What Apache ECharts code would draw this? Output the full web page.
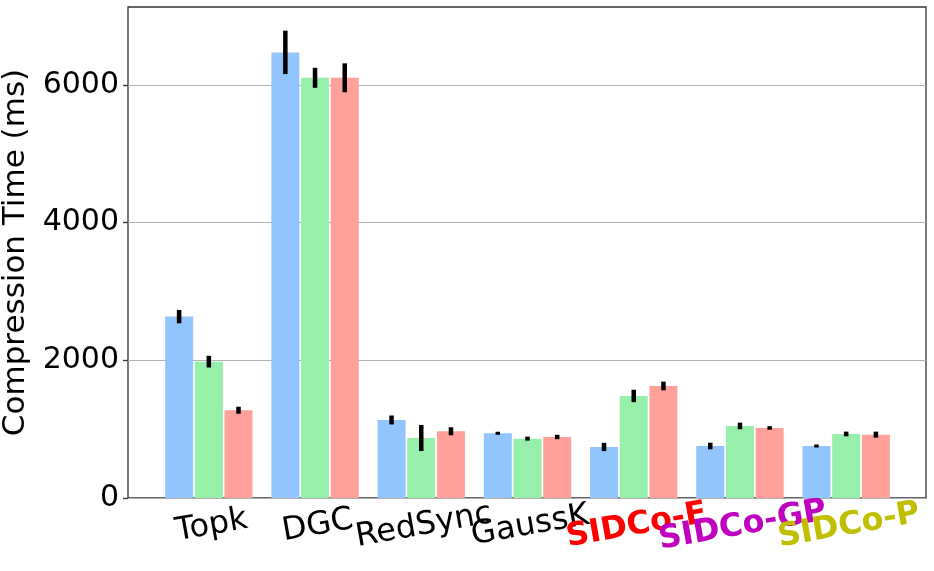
<!DOCTYPE html>
<html>
<head>
<meta charset="utf-8">
<script src="https://cdn.jsdelivr.net/npm/echarts@6/dist/echarts.min.js"></script>
<style>
  html, body { margin: 0; padding: 0; background: #fff; }
  #chart { width: 934px; height: 571px; }
</style>
</head>
<body>
<div id="chart"></div>
<script>
// categories and values (ms)
var categories = ["Topk", "DGC", "RedSync", "GaussK", "SIDCo-E", "SIDCo-GP", "SIDCo-P"];
var blueVals = [2634, 6471, 1133, 940, 741, 755, 755];
var greenVals = [1980, 6102, 872, 862, 1482, 1046, 930];
var redVals = [1274, 6102, 969, 886, 1627, 1017, 920];
var blueErr = [97, 315, 65, 22, 60, 48, 22];
var greenErr = [85, 145, 189, 29, 90, 48, 34];
var redErr = [51, 210, 58, 32, 63, 26, 44];
var yTicks = [0, 2000, 4000, 6000];

var yMax = 7130;
var barW = 28;
var offsets = [-29.7, 0, 29.7]; // px offset of each bar in group
var colors = ["#92c5fe", "#96f0a9", "#ffa09a"];
var fontFam = "DejaVu Sans";

var labelKey = {
  "SIDCo-E": "e",
  "SIDCo-GP": "gp",
  "SIDCo-P": "p"
};

function errSeries(vals, errs, k) {
  return {
    type: "custom",
    xAxisIndex: 1,
    yAxisIndex: 1,
    z: 10,
    data: vals.map(function (v, i) { return [i, v, errs[i]]; }),
    renderItem: function (params, api) {
      var c = api.coord([api.value(0), api.value(1)]);
      var h = api.size([0, api.value(2)])[1];
      return {
        type: "line",
        shape: { x1: c[0] + offsets[k], y1: c[1] - h, x2: c[0] + offsets[k], y2: c[1] + h },
        style: { stroke: "#000", lineWidth: 4.5 }
      };
    }
  };
}

function barSeries(vals, k) {
  return {
    type: "bar",
    xAxisIndex: 1,
    yAxisIndex: 1,
    barWidth: barW,
    barGap: "6%",
    data: vals,
    itemStyle: { color: colors[k] },
    emphasis: { disabled: true }
  };
}

var chart = echarts.init(document.getElementById("chart"));
chart.setOption({
  animation: false,
  textStyle: { fontFamily: fontFam },
  grid: [
    { left: 128, right: 8, top: 7, bottom: 73, outerBoundsMode: "none", containLabel: false, show: true, borderColor: "#333", borderWidth: 1.3, backgroundColor: "transparent" },
    { left: 155.7, right: 34.7, top: 7, bottom: 73, outerBoundsMode: "none", containLabel: false }
  ],
  xAxis: [
    { gridIndex: 0, type: "value", min: 0, max: 1, show: false },
    {
      gridIndex: 1,
      type: "category",
      data: categories,
      axisLine: { show: false },
      axisTick: { alignWithLabel: true, length: 5, lineStyle: { color: "#333", width: 1.3 } },
      axisLabel: {
        interval: 0,
        hideOverlap: false,
        rotate: 10,
        align: "center",
        verticalAlign: "top",
        margin: 12,
        fontSize: 32,
        color: "#000",
        fontFamily: fontFam,
        formatter: function (v) {
          return labelKey[v] ? "{" + labelKey[v] + "|" + v + "}" : v;
        },
        rich: {
          e: { color: "#ff0000", fontWeight: "bold", fontSize: 32, fontFamily: fontFam },
          gp: { color: "#bf00bf", fontWeight: "bold", fontSize: 32, fontFamily: fontFam },
          p: { color: "#bfbf00", fontWeight: "bold", fontSize: 32, fontFamily: fontFam }
        }
      }
    }
  ],
  yAxis: [
    {
      gridIndex: 0,
      type: "value",
      min: 0,
      max: yMax,
      interval: 2000,
      name: "Compression Time (ms)",
      nameLocation: "middle",
      nameGap: 92,
      nameTextStyle: { fontSize: 31, color: "#000", fontFamily: fontFam },
      axisLine: { show: false },
      axisTick: { show: true, length: 5, customValues: yTicks, lineStyle: { color: "#333", width: 1.3 } },
      axisLabel: {
        fontSize: 30,
        color: "#000",
        margin: 9,
        fontFamily: fontFam,
        customValues: yTicks,
        formatter: function (v) { return String(v); }
      },
      splitLine: { show: true, lineStyle: { color: "#b0b0b0", width: 1 } }
    },
    { gridIndex: 1, type: "value", min: 0, max: yMax, show: false }
  ],
  series: [
    barSeries(blueVals, 0),
    barSeries(greenVals, 1),
    barSeries(redVals, 2),
    errSeries(blueVals, blueErr, 0),
    errSeries(greenVals, greenErr, 1),
    errSeries(redVals, redErr, 2)
  ]
});
</script>
</body>
</html>
